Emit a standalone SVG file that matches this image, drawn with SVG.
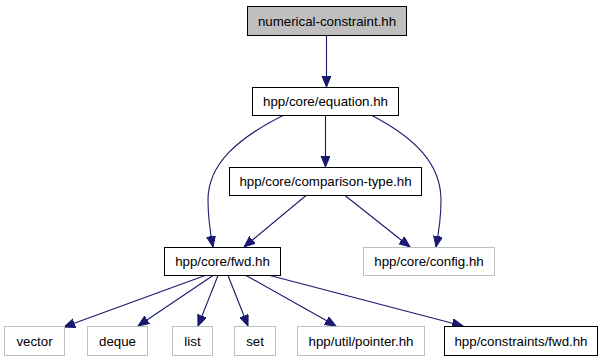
<svg xmlns="http://www.w3.org/2000/svg" width="603" height="363" viewBox="0 0 603 363">
  <style>
    .box { fill: #ffffff; stroke: #000000; stroke-width: 1; }
    .sys { fill: #ffffff; stroke: #bfbfbf; stroke-width: 1; }
    .root { fill: #bfbfbf; stroke: #000000; stroke-width: 1; }
    text { font-family: "Liberation Sans", Arial, Helvetica, sans-serif; font-size: 13.3px; fill: #000000; text-anchor: middle; }
    .edge { fill: none; stroke: #191970; stroke-width: 1.1; marker-end: url(#arrow); }
  </style>
  <defs>
    <marker id="arrow" markerUnits="userSpaceOnUse" markerWidth="12" markerHeight="10" refX="11" refY="4.5" orient="auto">
      <path d="M0,0 L11,4.5 L0,9 z" fill="#191970" stroke="#191970" stroke-width="1"/>
    </marker>
  </defs>

  <rect width="603" height="363" fill="#ffffff"/>

  <g id="edges">
    <path class="edge" d="M326.5,35.5 L326.5,87"/>
    <path class="edge" d="M325.5,115.5 L325.5,167"/>
    <path class="edge" d="M283,115.5 C238,138 208,164 208,200 C208,216 210,231 213,247"/>
    <path class="edge" d="M372,115.5 C415,138 441,164 441,200 C441,216 439,231 436,247"/>
    <path class="edge" d="M306,195.5 L244,247"/>
    <path class="edge" d="M345,195.5 L410,247"/>
    <path class="edge" d="M205,275.5 L64,327"/>
    <path class="edge" d="M213,275.5 L138,326"/>
    <path class="edge" d="M218,275.5 L198,326"/>
    <path class="edge" d="M228,275.5 L248,326"/>
    <path class="edge" d="M246,275.5 L336,326"/>
    <path class="edge" d="M270,275.5 L463,326"/>
  </g>

  <g id="node-numerical-constraint">
    <rect class="root" x="247.5" y="6.5" width="159" height="29"/>
    <text x="327" y="25.5">numerical-constraint.hh</text>
  </g>
  <g id="node-equation">
    <rect class="box" x="252.5" y="87.5" width="146" height="28"/>
    <text x="325.5" y="106">hpp/core/equation.hh</text>
  </g>
  <g id="node-comparison-type">
    <rect class="box" x="229.5" y="167.5" width="192" height="28"/>
    <text x="325.5" y="186">hpp/core/comparison-type.hh</text>
  </g>
  <g id="node-fwd">
    <rect class="box" x="164.5" y="247.5" width="116" height="28"/>
    <text x="222.5" y="266">hpp/core/fwd.hh</text>
  </g>
  <g id="node-config">
    <rect class="sys" x="363.5" y="247.5" width="131" height="28"/>
    <text x="429" y="266">hpp/core/config.hh</text>
  </g>
  <g id="node-vector">
    <rect class="sys" x="4.5" y="326.5" width="60" height="29"/>
    <text x="34.5" y="345.5">vector</text>
  </g>
  <g id="node-deque">
    <rect class="sys" x="87.5" y="326.5" width="60" height="29"/>
    <text x="117.5" y="345.5">deque</text>
  </g>
  <g id="node-list">
    <rect class="sys" x="172.5" y="326.5" width="40" height="29"/>
    <text x="192.5" y="345.5">list</text>
  </g>
  <g id="node-set">
    <rect class="sys" x="234.5" y="326.5" width="41" height="29"/>
    <text x="255" y="345.5">set</text>
  </g>
  <g id="node-pointer">
    <rect class="sys" x="297.5" y="326.5" width="127" height="29"/>
    <text x="361" y="345.5">hpp/util/pointer.hh</text>
  </g>
  <g id="node-constraints-fwd">
    <rect class="box" x="444.5" y="326.5" width="153" height="29"/>
    <text x="521" y="345.5">hpp/constraints/fwd.hh</text>
  </g>
</svg>
